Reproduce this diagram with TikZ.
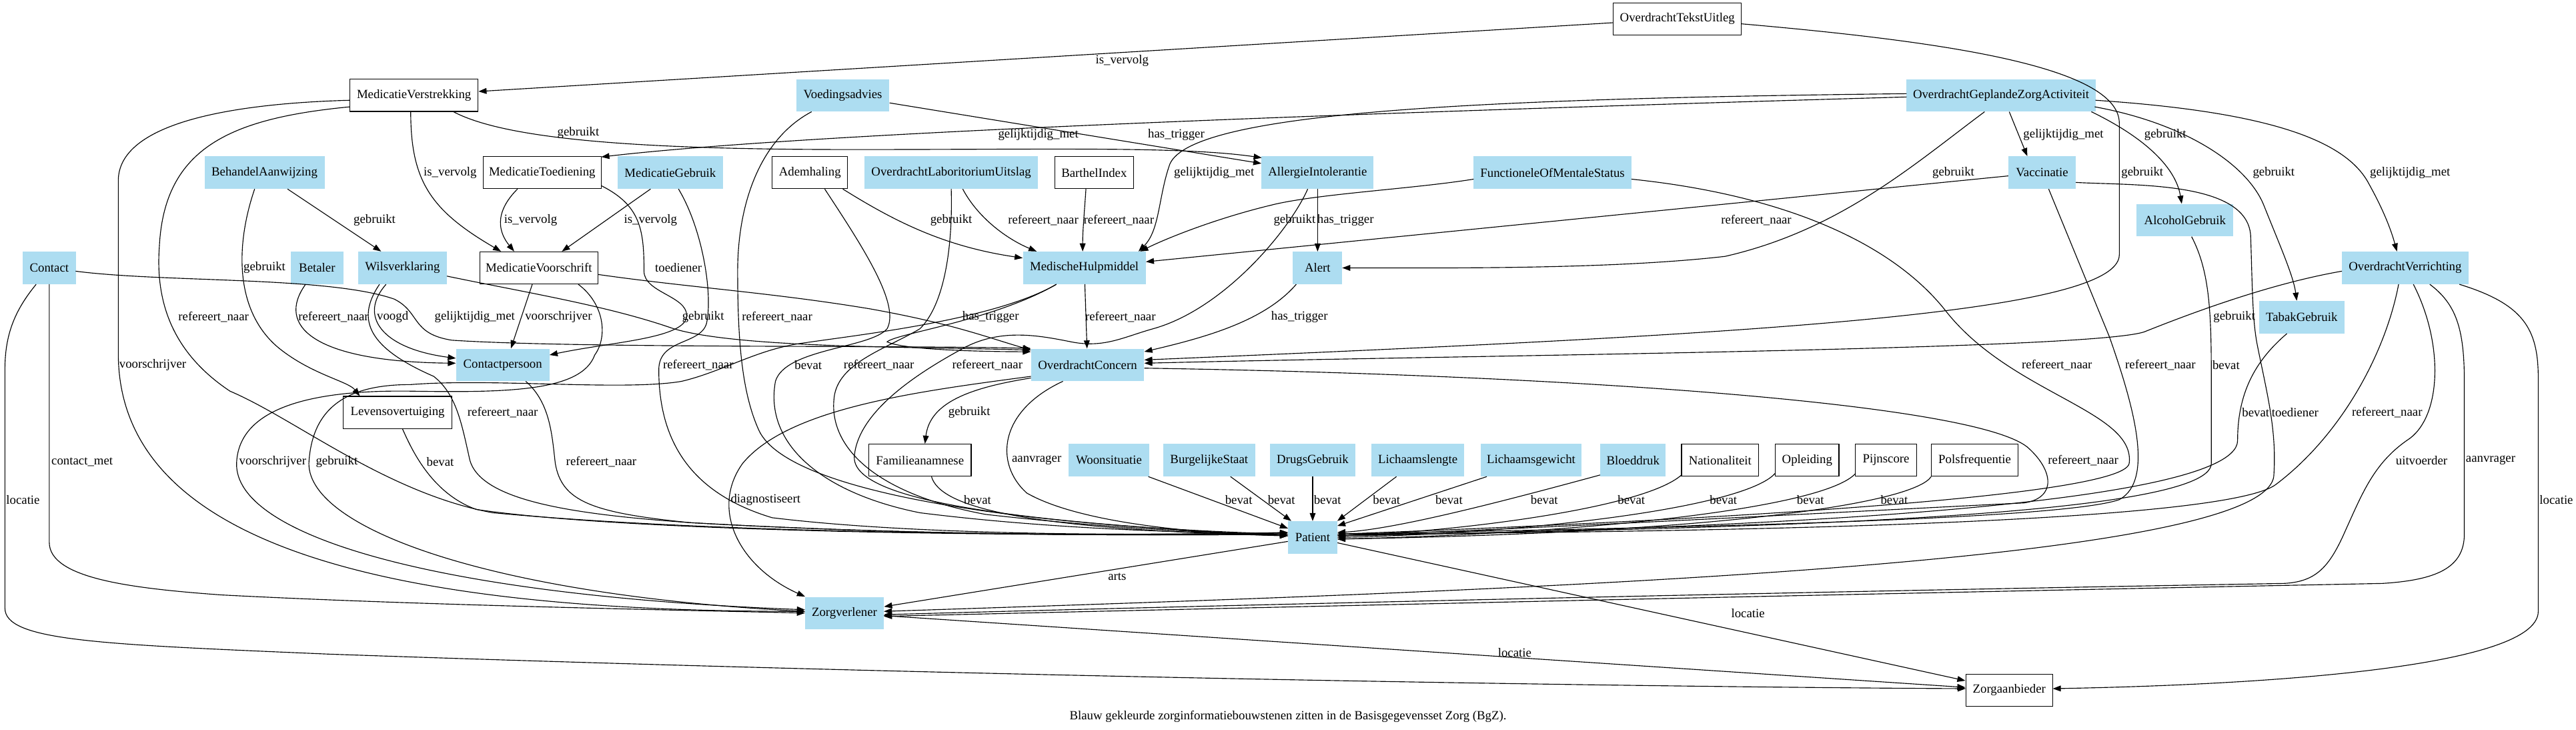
\documentclass[tikz,border=0pt]{standalone}
\usepackage{fontspec}
\setmainfont{Liberation Serif}
\usetikzlibrary{arrows.meta,calc}
\definecolor{bzblue}{HTML}{ADDDF1}
\newcommand\gvfont{\fontsize{14pt}{16pt}\selectfont}
\begin{document}
\begin{tikzpicture}[x=1.833pt,y=-1.833pt,
  bz/.style={fill=bzblue,draw=none,minimum height=36pt,inner xsep=3pt,inner ysep=0pt,font=\gvfont},
  wz/.style={fill=white,draw=black,line width=0.9pt,minimum height=36pt,inner xsep=3pt,inner ysep=0pt,font=\gvfont},
  e/.style={draw=black,line width=0.85pt,-{Triangle[length=9pt,width=6.5pt]}},
  lbl/.style={font=\gvfont,inner sep=0pt}]
\useasboundingbox (0,0) rectangle (1568,443.8);
% ---------------- nodes
\node[wz, minimum width=143pt] (OTU) at (1021,11.5) {OverdrachtTekstUitleg};
\node[wz, minimum width=143pt] (MV) at (252,58) {MedicatieVerstrekking};
\node[bz, minimum width=104pt] (Voed) at (513,58) {Voedingsadvies};
\node[bz, minimum width=211pt] (OGZA) at (1218,58) {OverdrachtGeplandeZorgActiviteit};
\node[bz, minimum width=134pt] (BA) at (161,105) {BehandelAanwijzing};
\node[wz, minimum width=132pt] (MT) at (330,105) {MedicatieToediening};
\node[bz, minimum width=117pt] (MG) at (408,105) {MedicatieGebruik};
\node[wz, minimum width=84pt] (Adem) at (493,105) {Ademhaling};
\node[bz, minimum width=194pt] (OLU) at (579,105) {OverdrachtLaboritoriumUitslag};
\node[wz, minimum width=88pt] (BI) at (666,105) {BarthelIndex};
\node[bz, minimum width=125pt] (AI) at (802,105) {AllergieIntolerantie};
\node[bz, minimum width=176pt] (FMS) at (945,105) {FunctioneleOfMentaleStatus};
\node[bz, minimum width=75pt] (Vacc) at (1243,105) {Vaccinatie};
\node[bz, minimum width=108pt] (Alc) at (1330,134) {AlcoholGebruik};
\node[bz, minimum width=59pt] (Contact) at (30,163) {Contact};
\node[bz, minimum width=59pt] (Bet) at (193,163) {Betaler};
\node[bz, minimum width=99pt] (Wils) at (245,163) {Wilsverklaring};
\node[wz, minimum width=132pt] (MVS) at (328,163) {MedicatieVoorschrift};
\node[bz, minimum width=137pt] (MH) at (660,163) {MedischeHulpmiddel};
\node[bz, minimum width=55pt] (Alert) at (802,163) {Alert};
\node[bz, minimum width=141pt] (OV) at (1464,163) {OverdrachtVerrichting};
\node[bz, minimum width=95pt] (Tabak) at (1401,193) {TabakGebruik};
\node[bz, minimum width=104pt] (CP) at (306,222) {Contactpersoon};
\node[bz, minimum width=126pt] (OC) at (662,222) {OverdrachtConcern};
\node[wz, minimum width=121pt] (Lev) at (242,251) {Levensovertuiging};
\node[wz, minimum width=114pt] (Fam) at (560,280) {Familieanamnese};
\node[bz, minimum width=90pt] (Woon) at (675,280) {Woonsituatie};
\node[bz, minimum width=103pt] (BS) at (736,280) {BurgelijkeStaat};
\node[bz, minimum width=95pt] (DG) at (799,280) {DrugsGebruik};
\node[bz, minimum width=104pt] (LL) at (863,280) {Lichaamslengte};
\node[bz, minimum width=112pt] (LG) at (932,280) {Lichaamsgewicht};
\node[bz, minimum width=73pt] (BD) at (994,280) {Bloeddruk};
\node[wz, minimum width=86pt] (Nat) at (1047,280) {Nationaliteit};
\node[wz, minimum width=71pt] (Opl) at (1100,280) {Opleiding};
\node[wz, minimum width=68pt] (Pijn) at (1148,280) {Pijnscore};
\node[wz, minimum width=97pt] (Pols) at (1202,280) {Polsfrequentie};
\node[bz, minimum width=55pt] (Pat) at (799,327) {Patient};
\node[bz, minimum width=88pt] (ZV) at (514,373) {Zorgverlener};
\node[wz, minimum width=97pt] (ZA) at (1223,420) {Zorgaanbieder};
\node[lbl] (cap) at (784,436) {Blauw gekleurde zorginformatiebouwstenen zitten in de Basisgegevensset Zorg (BgZ).};
% ---------------- edges
\draw[e] (OTU) -- (MV) node[lbl] at (683,37) {is\_vervolg};
\draw[e] ($(OTU)+(39,3)$) .. controls (1180,25) and (1290,40) .. (1290,75) -- (1290,155) .. controls (1290,192) and (1050,204) .. ($(OC)+(34.5,-3)$) node[lbl] at (1304,105) {gebruikt};
\draw[e] ($(MV)+(-2,10)$) .. controls (250,110) and (262,128) .. ($(MVS)+(-23,-10)$) node[lbl] at (274,105) {is\_vervolg};
\draw[e] ($(MV)+(24,10)$) .. controls (310,86) and (400,91) .. (520,91) .. controls (640,91) and (720,89) .. ($(AI)+(-34,-9)$) node[lbl] at (352,81) {gebruikt};
\draw[e] ($(MV)+(-39,3)$) .. controls (140,63) and (72,75) .. (72,110) -- (72,215) .. controls (72,330) and (230,372) .. ($(ZV)+(-24,-1)$) node[lbl] at (93,222) {voorschrijver};
\draw[e] ($(MV)+(-39,7)$) .. controls (140,72) and (100,90) .. (97,150) .. controls (94,190) and (110,218) .. (140,238) .. controls (180,255) and (235,300) .. (300,312) .. controls (450,326) and (680,326) .. ($(Pat)+(-15,-3)$) node[lbl] at (130,193) {refereert\_naar};
\draw[e] (Voed) -- (AI) node[lbl] at (716,82) {has\_trigger};
\draw[e] ($(Voed)+(-19,10)$) .. controls (462,85) and (449,125) .. (449,165) .. controls (449,210) and (452,240) .. (462,262) .. controls (480,300) and (620,320) .. ($(Pat)+(-15,-2)$) node[lbl] at (473,193) {refereert\_naar};
\draw[e] ($(OGZA)+(-57.5,1)$) .. controls (850,68) and (500,80) .. ($(MT)+(36,-9.5)$) node[lbl] at (632,82) {gelijktijdig\_met};
\draw[e] ($(OGZA)+(-57.5,-1)$) .. controls (900,60) and (725,68) .. (712,100) .. controls (705,120) and (706,140) .. ($(MH)+(33,-10)$) node[lbl] at (739,105) {gelijktijdig\_met};
\draw[e] ($(OGZA)+(-10,10)$) .. controls (1165,100) and (1120,140) .. (1050,156) .. controls (980,164) and (880,163) .. ($(Alert)+(15,0)$) node[lbl] at (1189,105) {gebruikt};
\draw[e] ($(OGZA)+(5,10)$) -- ($(Vacc)+(-9,-10)$) node[lbl] at (1256,82) {gelijktijdig\_met};
\draw[e] ($(OGZA)+(55,10)$) .. controls (1302,82) and (1324,100) .. ($(Alc)+(-2,-10)$) node[lbl] at (1318,82) {gebruikt};
\draw[e] ($(OGZA)+(57,7)$) .. controls (1330,75) and (1368,100) .. (1378,125) .. controls (1388,150) and (1396,168) .. ($(Tabak)+(-3,-10)$) node[lbl] at (1384,105) {gebruikt};
\draw[e] ($(OGZA)+(57.5,3)$) .. controls (1380,68) and (1428,85) .. (1442,112) .. controls (1452,130) and (1456,142) .. ($(OV)+(-5,-10)$) node[lbl] at (1467,105) {gelijktijdig\_met};
\draw[e] ($(BA)+(14,10)$) -- ($(Wils)+(-13,-10)$) node[lbl] at (228,134) {gebruikt};
\draw[e] ($(BA)+(-6,10)$) .. controls (143,150) and (143,190) .. (170,212) .. controls (190,228) and (212,232) .. ($(Lev)+(-23,-10)$) node[lbl] at (161,163) {gebruikt};
\draw[e] ($(MT)+(-15,10)$) .. controls (300,130) and (304,142) .. ($(MVS)+(-15,-10)$) node[lbl] at (323,134) {is\_vervolg};
\draw[e] ($(MT)+(36,8)$) .. controls (390,125) and (392,140) .. (392,165) .. controls (392,178) and (418,180) .. (418,192) .. controls (418,206) and (372,208) .. ($(CP)+(28.5,-6)$) node[lbl] at (413,163) {toediener};
\draw[e] ($(MG)+(-12,10)$) -- ($(MVS)+(14,-10)$) node[lbl] at (396,134) {is\_vervolg};
\draw[e] ($(MG)+(5,10)$) .. controls (428,140) and (434,180) .. (430,197) .. controls (426,210) and (401,206) .. (401,225) .. controls (401,268) and (420,300) .. (470,315) .. controls (560,326) and (700,326) .. ($(Pat)+(-15,-3)$) node[lbl] at (425,222) {refereert\_naar};
\draw[e] ($(Adem)+(20,10)$) .. controls (545,135) and (575,150) .. ($(MH)+(-37.5,-6)$) node[lbl] at (579,134) {gebruikt};
\draw[e] ($(Adem)+(9,10)$) .. controls (525,150) and (548,185) .. (540,200) .. controls (530,212) and (478,212) .. (472,232) .. controls (465,270) and (500,300) .. (560,312) .. controls (640,322) and (720,324) .. ($(Pat)+(-15,-2)$) node[lbl] at (492,222) {bevat};
\draw[e] ($(OLU)+(7,10)$) .. controls (595,132) and (612,145) .. ($(MH)+(-29,-10)$) node[lbl] at (635,134) {refereert\_naar};
\draw[e] ($(OLU)+(0,10)$) .. controls (580,150) and (575,185) .. (560,200) .. controls (540,212) and (512,220) .. (508,240) .. controls (503,270) and (530,300) .. (600,313) .. controls (680,322) and (740,324) .. ($(Pat)+(-15,-1)$) node[lbl] at (535,222) {refereert\_naar};
\draw[e] ($(BI)+(-5,10)$) .. controls (660,130) and (659,140) .. ($(MH)+(-1,-10)$) node[lbl] at (681,134) {refereert\_naar};
\draw[e] ($(FMS)+(-48,4)$) .. controls (860,115) and (800,118) .. (773,125) .. controls (740,133) and (710,145) .. ($(MH)+(34,-10)$) node[lbl] at (788,134) {gebruikt};
\draw[e] (AI) -- (Alert) node[lbl] at (819,134) {has\_trigger};
\draw[e] (Vacc) -- (MH) node[lbl] at (1069,134) {refereert\_naar};
\draw[e] ($(AI)+(-6,10)$) .. controls (785,140) and (745,188) .. (702,200) .. controls (684,205) and (672,212) .. (652,208) .. controls (632,204) and (610,200) .. (588,211) .. controls (560,226) and (522,250) .. (520,278) .. controls (519,305) and (620,318) .. ($(Pat)+(-15,-1)$) node[lbl] at (601,222) {refereert\_naar};
\draw[e] (MH) -- (OC) node[lbl] at (682,193) {refereert\_naar};
\draw[e] ($(MH)+(-17,10)$) .. controls (605,195) and (545,203) .. (540,208) .. controls (550,213) and (600,214) .. ($(OC)+(-34.5,-8)$) node[lbl] at (603,193) {has\_trigger};
\draw[e] ($(MH)+(-17,10)$) .. controls (605,195) and (520,204) .. (487,209) .. controls (460,213) and (440,226) .. (415,232) .. controls (380,238) and (300,230) .. (250,234) .. controls (215,234) and (190,245) .. (188,282) .. controls (188,322) and (300,362) .. ($(ZV)+(-24,-1)$) node[lbl] at (205,281) {gebruikt};
\draw[e] ($(MVS)+(24,10)$) .. controls (368,185) and (370,205) .. (362,216) .. controls (354,238) and (310,239) .. (250,238) .. controls (180,237) and (145,252) .. (144,282) .. controls (143,325) and (260,362) .. ($(ZV)+(-24,-2)$) node[lbl] at (166,281) {voorschrijver};
\draw[e] ($(MVS)+(-4,10)$) -- ($(CP)+(5,-10)$) node[lbl] at (340,193) {voorschrijver};
\draw[e] ($(Wils)+(-10,10)$) .. controls (218,192) and (232,212) .. ($(CP)+(-28.5,-4)$) node[lbl] at (239,193) {voogd};
\draw[e] ($(Wils)+(-14,10)$) .. controls (216,195) and (225,212) .. (264,229) .. controls (278,240) and (281,258) .. (286,280) .. controls (293,305) and (350,313) .. (420,318) .. controls (560,326) and (700,326) .. ($(Pat)+(-15,-2)$) node[lbl] at (306,251) {refereert\_naar};
\draw[e] ($(Bet)+(-7,10)$) .. controls (168,198) and (190,220) .. ($(CP)+(-28.5,-1)$) node[lbl] at (203,193) {refereert\_naar};
\draw[e] ($(Contact)+(16,2)$) .. controls (100,172) and (200,168) .. (240,182) .. controls (256,190) and (250,203) .. (275,207) .. controls (350,212) and (550,210) .. ($(OC)+(-34.5,-10)$) node[lbl] at (289,193) {gelijktijdig\_met};
\draw[e] ($(Wils)+(27,5)$) .. controls (320,178) and (370,186) .. (410,200) .. controls (450,212) and (560,211) .. ($(OC)+(-34.5,-9)$);
\draw[e] ($(MVS)+(36,4)$) .. controls (420,175) and (470,178) .. (530,188) .. controls (580,197) and (600,205) .. ($(OC)+(-34.5,-9)$) node[lbl] at (428,193) {gebruikt};
\draw[e] ($(CP)+(14,10)$) .. controls (335,245) and (336,265) .. (338,282) .. controls (342,305) and (360,312) .. (420,318) .. controls (560,326) and (700,326) .. ($(Pat)+(-15,-2)$) node[lbl] at (366,281) {refereert\_naar};
\draw[e] ($(Lev)+(3,10)$) .. controls (250,272) and (262,300) .. (290,310) .. controls (400,326) and (680,326) .. ($(Pat)+(-15,-2)$) node[lbl] at (268,281) {bevat};
\draw[e] ($(Fam)+(7,10)$) .. controls (572,308) and (620,322) .. ($(Pat)+(-15,-1)$) node[lbl] at (595,304) {bevat};
\draw[e] ($(Woon)+(24,10)$) -- ($(Pat)+(-15,-5.5)$) node[lbl] at (754,304) {bevat};
\draw[e] ($(BS)+(13,10)$) -- ($(Pat)+(-13,-10)$) node[lbl] at (780,304) {bevat};
\draw[e] (DG) -- (Pat) node[lbl] at (808,304) {bevat};
\draw[e] ($(LL)+(-13,10)$) -- ($(Pat)+(15,-10)$) node[lbl] at (844,304) {bevat};
\draw[e] ($(LG)+(-27,10)$) -- ($(Pat)+(15,-7)$) node[lbl] at (882,304) {bevat};
\draw[e] ($(BD)+(-20,9)$) .. controls (915,305) and (850,322) .. ($(Pat)+(15,-3)$) node[lbl] at (940,304) {bevat};
\draw[e] ($(Nat)+(-23.5,9)$) .. controls (1000,310) and (880,324) .. ($(Pat)+(15,-1)$) node[lbl] at (993,304) {bevat};
\draw[e] ($(Opl)+(-19.5,8)$) .. controls (1063,308) and (940,324) .. ($(Pat)+(15,0)$) node[lbl] at (1049,304) {bevat};
\draw[e] ($(Pijn)+(-18.5,8)$) .. controls (1112,308) and (980,324) .. ($(Pat)+(15,1)$) node[lbl] at (1102,304) {bevat};
\draw[e] ($(Pols)+(-26.5,10)$) .. controls (1165,306) and (1050,324) .. ($(Pat)+(15,1)$) node[lbl] at (1153,304) {bevat};
\draw[e] ($(OC)+(-15,10)$) .. controls (608,250) and (605,282) .. (625,300) .. controls (660,320) and (740,325) .. ($(Pat)+(-15,-1)$) node[lbl] at (631,280) {aanvrager};
\draw[e] ($(OC)+(-34.5,8)$) .. controls (590,236) and (566,245) .. ($(Fam)+(3,-10)$) node[lbl] at (590,251) {gebruikt};
\draw[e] ($(OC)+(-34.5,7)$) .. controls (560,238) and (480,248) .. (452,282) .. controls (432,310) and (450,345) .. ($(ZV)+(-24,-10)$) node[lbl] at (466,304) {diagnostiseert};
\draw[e] (Pat) -- (ZV) node[lbl] at (680,351) {arts};
\draw[e] (Pat) -- (ZA) node[lbl] at (1064,373) {locatie};
\draw[e] (ZV) -- (ZA) node[lbl] at (922,397) {locatie};
\draw[e] (Contact.south) -- (30,330) .. controls (30,352) and (80,358) .. (135,362) .. controls (250,368) and (400,371) .. ($(ZV)+(-24,0)$) node[lbl] at (50,281) {contact\_met};
\draw[e] ($(Contact)+(-8,10)$) .. controls (8,190) and (3,205) .. (3,225) -- (3,370) .. controls (3,390) and (60,392) .. (200,398) .. controls (600,412) and (1000,418) .. ($(ZA)+(-26.5,-1)$) node[lbl] at (14,304) {locatie};
\draw[e] ($(OV)+(33,10)$) .. controls (1536,185) and (1545,200) .. (1545,230) -- (1545,372) .. controls (1545,408) and (1360,417) .. ($(ZA)+(26.5,-1)$) node[lbl] at (1556,304) {locatie};
\draw[e] ($(OV)+(5,10)$) .. controls (1488,210) and (1486,255) .. (1465,268) .. controls (1445,282) and (1438,300) .. (1428,322) .. controls (1418,345) and (1410,354) .. (1390,355) .. controls (1100,360) and (750,368) .. ($(ZV)+(24,1)$) node[lbl] at (1474,280) {uitvoerder};
\draw[e] ($(OV)+(15,10)$) .. controls (1495,185) and (1500,200) .. (1500,232) -- (1500,325) .. controls (1500,346) and (1482,353) .. (1450,355) .. controls (1100,362) and (750,370) .. ($(ZV)+(24,2)$) node[lbl] at (1516,280) {aanvrager};
\draw[e] ($(OV)+(-4,10)$) .. controls (1452,215) and (1425,265) .. (1385,295) .. controls (1350,320) and (1000,324) .. ($(Pat)+(15,-2)$) node[lbl] at (1453,251) {refereert\_naar};
\draw[e] ($(OV)+(-38.5,2)$) .. controls (1385,172) and (1340,188) .. (1305,202) .. controls (1270,213) and (900,216) .. ($(OC)+(34.5,-1)$) node[lbl] at (1360,193) {gebruikt};
\draw[e] ($(Alc)+(4,10)$) .. controls (1345,165) and (1346,190) .. (1346,230) -- (1346,282) .. controls (1346,318) and (1000,322) .. ($(Pat)+(15,-1)$) node[lbl] at (1355,222) {bevat};
\draw[e] ($(Tabak)+(-9,10)$) .. controls (1372,220) and (1362,240) .. (1362,268) .. controls (1362,312) and (1000,323) .. ($(Pat)+(15,-1)$) node[lbl] at (1373,251) {bevat};
\draw[e] ($(Vacc)+(20.5,6)$) .. controls (1300,113) and (1370,110) .. (1370,145) .. controls (1371,175) and (1371,195) .. (1374,210) .. controls (1380,240) and (1386,262) .. (1384,290) .. controls (1376,345) and (900,360) .. ($(ZV)+(24,-1)$) node[lbl] at (1397,251) {toediener};
\draw[e] ($(Vacc)+(4,10)$) -- (1284,205) .. controls (1298,245) and (1312,292) .. (1290,304) .. controls (1250,318) and (950,322) .. ($(Pat)+(15,-2)$) node[lbl] at (1315,222) {refereert\_naar};
\draw[e] ($(FMS)+(48,4)$) .. controls (1080,118) and (1150,145) .. (1185,190) .. controls (1225,240) and (1300,250) .. (1296,282) .. controls (1292,304) and (1000,318) .. ($(Pat)+(15,-2)$) node[lbl] at (1252,222) {refereert\_naar};
\draw[e] ($(OC)+(34.5,2)$) .. controls (950,228) and (1200,245) .. (1234,272) .. controls (1250,286) and (1252,303) .. (1232,306) .. controls (1150,310) and (950,321) .. ($(Pat)+(15,-1)$) node[lbl] at (1268,280) {refereert\_naar};
\draw[e] ($(Alert)+(-13,10)$) .. controls (770,195) and (735,205) .. ($(OC)+(34.5,-8)$) node[lbl] at (791,193) {has\_trigger};
\end{tikzpicture}
\end{document}
